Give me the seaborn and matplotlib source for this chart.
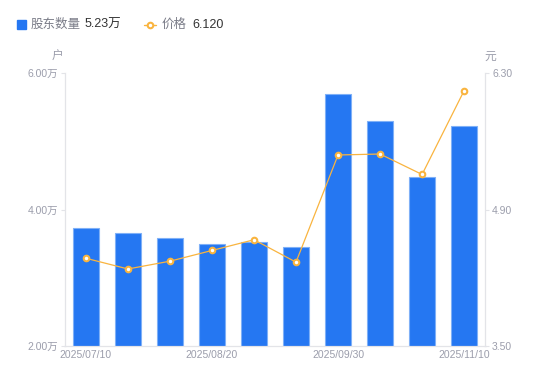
import seaborn as sns
import matplotlib.pyplot as plt
import pandas as pd
from matplotlib.lines import Line2D
from matplotlib.patches import Rectangle

# data
dates = ["2025/07/10", "2025/07/20", "2025/07/31", "2025/08/20", "2025/08/31",
         "2025/09/10", "2025/09/30", "2025/10/20", "2025/10/31", "2025/11/10"]
holders = [3.73, 3.66, 3.58, 3.49, 3.52, 3.45, 5.69, 5.30, 4.48, 5.23]  # 万户
price = [4.40, 4.29, 4.37, 4.48, 4.59, 4.36, 5.46, 5.47, 5.26, 6.12]    # 元
shown_dates = ["2025/07/10", "2025/08/20", "2025/09/30", "2025/11/10"]
left_ticks = [2.0, 4.0, 6.0]
right_ticks = [3.5, 4.9, 6.3]

df = pd.DataFrame({"date": dates, "holders": holders, "price": price})

sns.set_style("white")
plt.rcParams["font.family"] = ["Liberation Sans", "Noto Sans CJK SC", "DejaVu Sans"]

blue = "#2577f2"
orange = "#f9b43f"
grey_txt = "#9b9dab"
axis_col = "#e3e4e8"

fig = plt.figure(figsize=(5.5, 3.81), dpi=100)
ax = fig.add_axes([0.118, 0.092, 0.764, 0.716])

sns.barplot(data=df, x="date", y="holders", ax=ax, color=blue, width=0.6,
            edgecolor="#7fb0f7", linewidth=0.8, saturation=1)
ax.set_ylim(2.0, 6.0)
ax.set_yticks(left_ticks)
ax.set_yticklabels([f"{v:.2f}万" for v in left_ticks])

ax2 = ax.twinx()
sns.pointplot(data=df, x="date", y="price", ax=ax2, color=orange,
              markers="o", markersize=4, linewidth=0.9)
for ln in ax2.lines:
    ln.set_markerfacecolor("white")
    ln.set_markeredgewidth(1.5)
ax2.set_ylim(3.5, 6.3)
ax2.set_yticks(right_ticks)
ax2.set_yticklabels([f"{v:.2f}" for v in right_ticks])
ax.set_xlim(-0.5, len(dates) - 0.5)

ax.set_xticks([dates.index(d) for d in shown_dates])
ax.set_xticklabels(shown_dates)

for a in (ax, ax2):
    a.set_xlabel("")
    a.set_ylabel("")
    for s in a.spines.values():
        s.set_color(axis_col)
        s.set_linewidth(0.8)
    a.spines["top"].set_visible(False)
    a.tick_params(colors=grey_txt, labelsize=7.5, length=3, width=0.8, pad=2)
    a.tick_params(axis="y", color=axis_col)
ax.tick_params(axis="x", length=0, pad=3)

# unit labels
fig.text(58 / 550, 1 - 57 / 381, "户", color=grey_txt, fontsize=8.5, ha="center", va="center")
fig.text(490 / 550, 1 - 57 / 381, "元", color=grey_txt, fontsize=8.5, ha="center", va="center")

# legend header
fig.patches.append(Rectangle((17 / 550, 1 - 29 / 381), 9 / 550, 9 / 381,
                             transform=fig.transFigure, color=blue))
fig.text(31 / 550, 1 - 24.5 / 381, "股东数量", color="#7a7c88", fontsize=9, va="center")
fig.text(85 / 550, 1 - 24.5 / 381, "5.23万", color="#333333", fontsize=9, va="center")
fig.lines.append(Line2D([144 / 550, 156 / 550], [1 - 24.5 / 381] * 2, transform=fig.transFigure,
                        color=orange, lw=1))
fig.lines.append(Line2D([150 / 550], [1 - 24.5 / 381], transform=fig.transFigure,
                        color=orange, marker="o", ms=4, mfc="white", mew=1.5))
fig.text(162 / 550, 1 - 24.5 / 381, "价格", color="#7a7c88", fontsize=9, va="center")
fig.text(192 / 550, 1 - 24.5 / 381, "6.120", color="#333333", fontsize=9, va="center")

fig.savefig("out.png", dpi=100)
